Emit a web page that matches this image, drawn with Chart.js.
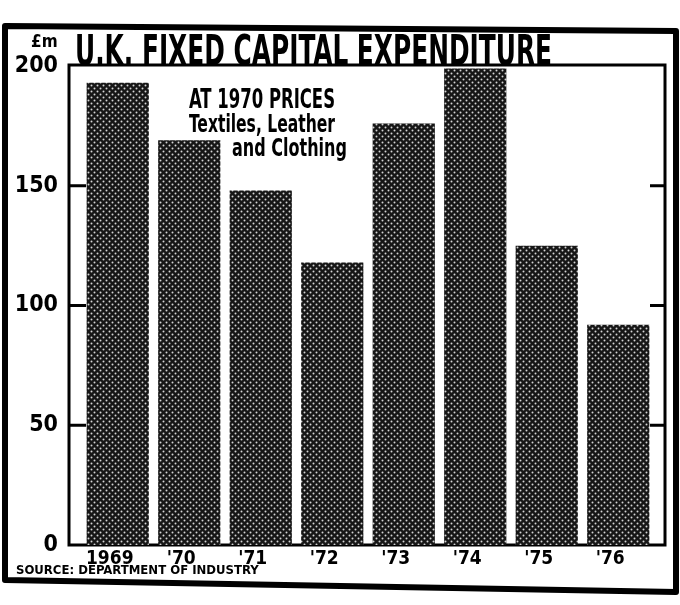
<!DOCTYPE html>
<html>
<head>
<meta charset="utf-8">
<script src="https://cdn.jsdelivr.net/npm/chart.js@4.4.1/dist/chart.umd.min.js"></script>
<style>
  html, body { margin: 0; padding: 0; background: #fff; }
  #contenedor { width: 680px; height: 605px; position: relative; }
</style>
</head>
<body>
<div id="contenedor"><canvas id="grafica" width="680" height="605"></canvas></div>
<script>
// datos (libras, millones, a precios de 1970)
const anios = ['1969', "'70", "'71", "'72", "'73", "'74", "'75", "'76"];
const gasto = [193, 169, 148, 118, 176, 199, 125, 92];
const marcasY = [0, 50, 100, 150, 200];

const titulo = 'U.K. FIXED CAPITAL EXPENDITURE';
const unidad = '£m';
const nota = ['AT 1970 PRICES', 'Textiles, Leather', 'and Clothing'];
const fuente = 'SOURCE: DEPARTMENT OF INDUSTRY';

const LETRA = '"Liberation Sans Narrow", "DejaVu Sans Condensed", "Arial Narrow", sans-serif';

function tramaPuntos(ctx) {
    const c = document.createElement('canvas');
    c.width = 6; c.height = 6;
    const g = c.getContext('2d');
    g.fillStyle = '#161616';
    g.fillRect(0, 0, 6, 6);
    g.fillStyle = '#d4d4d4';
    g.beginPath(); g.arc(1.5, 1.5, 1, 0, Math.PI * 2); g.fill();
    g.beginPath(); g.arc(4.5, 4.5, 1, 0, Math.PI * 2); g.fill();
    return ctx.createPattern(c, 'repeat');
}

// marco del grafico y marcas cortas en los dos lados
const marco = {
    id: 'marco',
    beforeDatasetsDraw(chart) {
        const { ctx, chartArea: a, scales: { y } } = chart;
        const izq = a.left - 13, der = a.right + 11;
        ctx.save();
        ctx.strokeStyle = '#000';
        ctx.lineWidth = 3;
        ctx.strokeRect(izq, a.top - 1, der - izq, a.bottom - a.top + 1);
        marcasY.filter(v => v > 0 && v < 200).forEach(v => {
            const py = y.getPixelForValue(v);
            ctx.beginPath();
            ctx.moveTo(izq, py); ctx.lineTo(izq + 17, py);
            ctx.moveTo(der, py); ctx.lineTo(der - 15, py);
            ctx.stroke();
        });
        ctx.restore();
    },
    afterDraw(chart) {
        const { ctx } = chart;
        ctx.save();
        ctx.fillStyle = '#000';
        ctx.textBaseline = 'alphabetic';
        ctx.textAlign = 'left';

        ctx.font = `bold 42px ${LETRA}`;
        ctx.fillText(titulo, 75, 65, 477);

        ctx.font = `bold 17px ${LETRA}`;
        ctx.fillText(unidad, 31, 47, 27);

        ctx.font = `bold 27px ${LETRA}`;
        ctx.fillText(nota[0], 189, 108, 146);
        ctx.font = `bold 24px ${LETRA}`;
        ctx.fillText(nota[1], 189, 132, 146);
        ctx.fillText(nota[2], 232, 156, 115);

        ctx.font = `bold 13px ${LETRA}`;
        ctx.fillText(fuente, 16, 574, 261);

        // recuadro exterior del recorte
        ctx.lineWidth = 6;
        ctx.lineJoin = 'round';
        ctx.beginPath();
        ctx.moveTo(5, 26);
        ctx.lineTo(676, 31);
        ctx.lineTo(676, 592);
        ctx.lineTo(5, 580);
        ctx.closePath();
        ctx.stroke();
        ctx.restore();
    }
};

const ctx = document.getElementById('grafica').getContext('2d');

new Chart(ctx, {
    type: 'bar',
    data: {
        labels: anios,
        datasets: [{
            label: 'Gasto',
            data: gasto,
            backgroundColor: tramaPuntos(ctx),
            borderWidth: 0,
            barPercentage: 0.87,
            categoryPercentage: 1.0
        }]
    },
    options: {
        responsive: false,
        animation: false,
        devicePixelRatio: 1,
        layout: { padding: { top: 66, right: 26, bottom: 15, left: 0 } },
        plugins: { legend: { display: false }, tooltip: { enabled: false } },
        scales: {
            y: {
                min: 0,
                max: 200,
                afterFit: s => { s.width = 82; },
                afterBuildTicks: s => { s.ticks = marcasY.map(v => ({ value: v })); },
                grid: { display: false, drawTicks: false },
                border: { display: false },
                ticks: {
                    color: '#000',
                    padding: 24,
                    font: { family: LETRA, size: 23, weight: 'bold' }
                }
            },
            x: {
                afterFit: s => { s.height = 45; },
                grid: { display: false, drawTicks: false },
                border: { display: false },
                ticks: {
                    color: '#000',
                    padding: 3,
                    labelOffset: -8,
                    maxRotation: 0,
                    font: { family: LETRA, size: 19, weight: 'bold' }
                }
            }
        }
    },
    plugins: [marco]
});
</script>
</body>
</html>
